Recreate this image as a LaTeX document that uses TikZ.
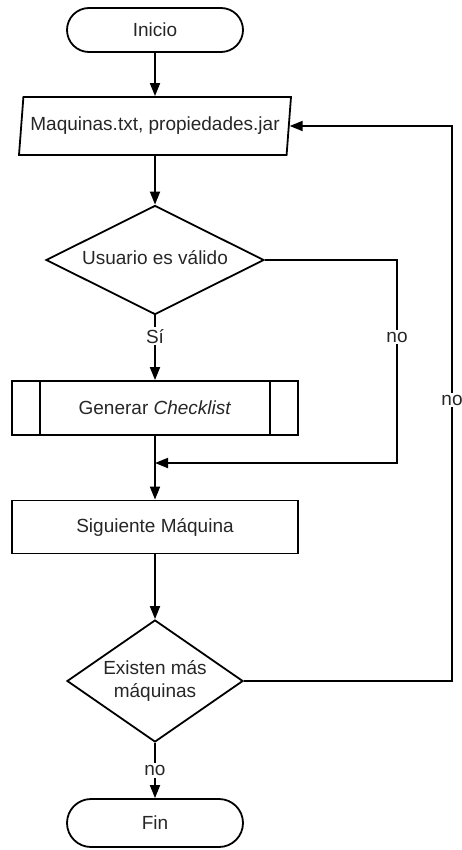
\documentclass[tikz,border=0pt]{standalone}
\usepackage{fontspec}
\setmainfont{Liberation Sans}
\usetikzlibrary{shapes.geometric,arrows.meta}
\newcommand{\flatlabel}[1]{\makebox[0pt]{\begin{tabular}{@{}c@{}}#1\end{tabular}}}
\begin{document}
\begin{tikzpicture}[x=1pt,y=-1pt,
  font=\fontsize{19}{23}\selectfont,
  every node/.style={text=black!85},
  shp/.style={draw=black, line width=1.8pt},
  terminal/.style={shp, rectangle, rounded corners=22pt, minimum width=176pt, minimum height=44pt, inner sep=0pt},
  iobox/.style={shp, trapezium, trapezium left angle=76, trapezium right angle=104,
     trapezium stretches body, minimum width=272pt, minimum height=58pt, inner sep=0pt},
  decision/.style={shp, diamond, inner sep=0pt},
  procbox/.style={shp, rectangle, minimum width=286pt, minimum height=54pt, inner sep=0pt},
  flow/.style={draw=black, line width=1.8pt, -{Triangle[width=10pt,length=13pt]}},
  plain/.style={draw=black, line width=1.8pt},
  lbl/.style={fill=white, inner sep=2pt, text=black!85}
]
\useasboundingbox (0,0) rectangle (461,850);

% main column of shapes
\node[terminal] (ini) at (155,30) {Inicio};
\node[iobox] (par) at (155,126) {Maquinas.txt, propiedades.jar};
\node[decision, minimum width=218pt, minimum height=109pt] (d1) at (155,260) {\flatlabel{Usuario es válido}};
\node[procbox] (gen) at (155,408) {Generar \textit{Checklist}};
\draw[plain] ([xshift=29pt]gen.north west) -- ([xshift=29pt]gen.south west);
\draw[plain] ([xshift=-29pt]gen.north east) -- ([xshift=-29pt]gen.south east);
\node[procbox, minimum height=53pt] (sig) at (155,527) {Siguiente Máquina};
\node[decision, minimum width=176pt, minimum height=122pt] (d2) at (155,681) {\flatlabel{Existen más\\máquinas}};
\node[terminal, minimum height=48pt, rounded corners=24pt] (fin) at (155,823) {Fin};

% bend points of the loops
\coordinate (c1) at (397,463);
\coordinate (m1) at (155,463);
\coordinate (c2) at (452,126);

% connectors
\draw[flow] (ini) -- (par);
\draw[flow] (par) -- (d1);
\draw[flow] (d1) -- node[lbl, pos=0.32]{Sí} (gen);
\draw[plain] (gen) -- (m1);
\draw[flow] (m1) -- (sig);
\draw[flow] (d1.east) -| node[lbl, pos=0.69]{no} (c1) -- (m1);
\draw[flow] (sig) -- (d2);
\draw[flow] (d2.east) -| node[lbl, pos=0.753]{no} (c2) -- (par.east);
\draw[flow] (d2) -- node[lbl]{no} (fin);
\end{tikzpicture}
\end{document}
